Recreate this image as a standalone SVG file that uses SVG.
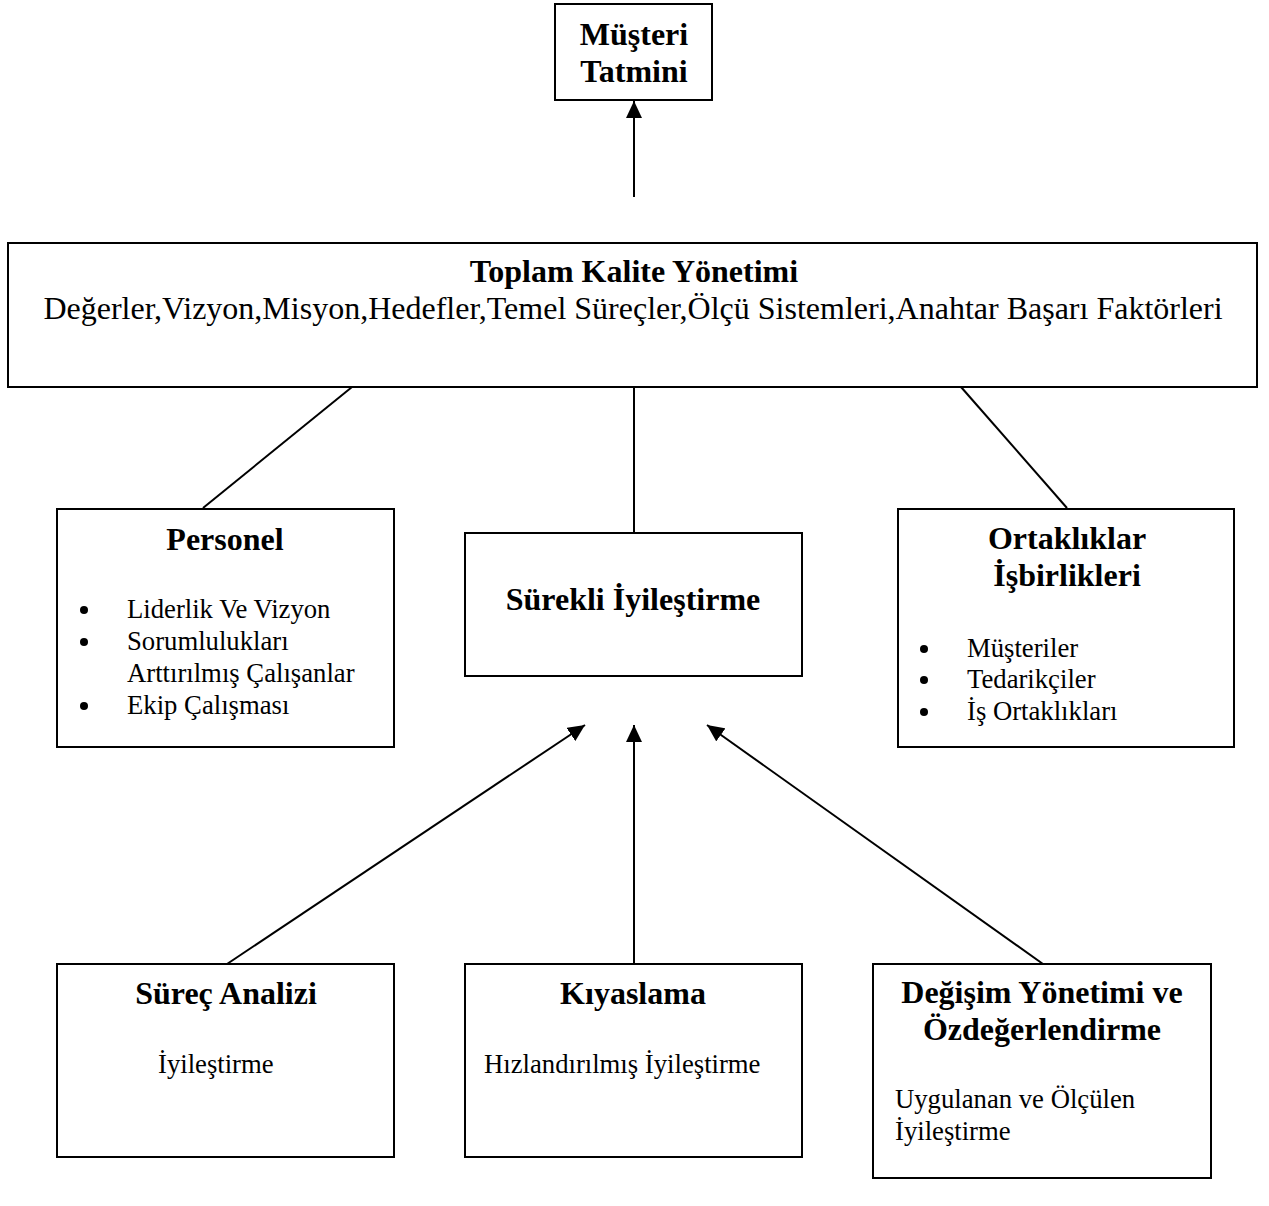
<svg xmlns="http://www.w3.org/2000/svg" width="1269" height="1206" viewBox="0 0 1269 1206">
<style>
  .box { fill: #ffffff; stroke: #000000; stroke-width: 2; }
  .conn { stroke: #000000; stroke-width: 2; fill: none; }
  .t { font-family: "Liberation Serif", "Times New Roman", serif; fill: #000000; }
  .title { font-size: 32px; font-weight: bold; text-anchor: middle; }
  .sub { font-size: 32px; text-anchor: middle; }
  .item { font-size: 26.7px; }
  .bullet { fill: #000000; }
</style>
<defs>
  <marker id="arrow" markerUnits="userSpaceOnUse" markerWidth="18" markerHeight="16" refX="17" refY="8" orient="auto">
    <path d="M0,0 L17,8 L0,16 Z" fill="#000000"/>
  </marker>
</defs>
<rect width="1269" height="1206" fill="#ffffff"/>

<g id="connectors">
  <line class="conn" x1="634" y1="197" x2="634" y2="101" marker-end="url(#arrow)"/>
  <line class="conn" x1="352" y1="387" x2="203" y2="508"/>
  <line class="conn" x1="634" y1="387" x2="634" y2="533"/>
  <line class="conn" x1="961" y1="387" x2="1067" y2="508"/>
  <line class="conn" x1="227" y1="964" x2="585" y2="725" marker-end="url(#arrow)"/>
  <line class="conn" x1="634" y1="964" x2="634" y2="725" marker-end="url(#arrow)"/>
  <line class="conn" x1="1043" y1="964" x2="707" y2="725" marker-end="url(#arrow)"/>
</g>

<g id="musteri-tatmini">
  <rect class="box" x="555" y="4" width="157" height="96"/>
  <text class="t title" x="634" y="45">Müşteri</text>
  <text class="t title" x="634" y="82">Tatmini</text>
</g>

<g id="toplam-kalite">
  <rect class="box" x="8" y="243" width="1249" height="144"/>
  <text class="t title" x="634" y="282">Toplam Kalite Yönetimi</text>
  <text class="t sub" x="633" y="319">Değerler,Vizyon,Misyon,Hedefler,Temel Süreçler,Ölçü Sistemleri,Anahtar Başarı Faktörleri</text>
</g>

<g id="personel">
  <rect class="box" x="57" y="509" width="337" height="238"/>
  <text class="t title" x="225" y="550">Personel</text>
  <circle class="bullet" cx="84" cy="610" r="4"/>
  <text class="t item" x="127" y="618">Liderlik Ve Vizyon</text>
  <circle class="bullet" cx="84" cy="642" r="4"/>
  <text class="t item" x="127" y="650">Sorumlulukları</text>
  <text class="t item" x="127" y="682">Arttırılmış Çalışanlar</text>
  <circle class="bullet" cx="84" cy="706" r="4"/>
  <text class="t item" x="127" y="714">Ekip Çalışması</text>
</g>

<g id="surekli-iyilestirme">
  <rect class="box" x="465" y="533" width="337" height="143"/>
  <text class="t title" x="633" y="610">Sürekli İyileştirme</text>
</g>

<g id="ortakliklar">
  <rect class="box" x="898" y="509" width="336" height="238"/>
  <text class="t title" x="1067" y="549">Ortaklıklar</text>
  <text class="t title" x="1067" y="586">İşbirlikleri</text>
  <circle class="bullet" cx="924" cy="649" r="4"/>
  <text class="t item" x="967" y="657">Müşteriler</text>
  <circle class="bullet" cx="924" cy="680" r="4"/>
  <text class="t item" x="967" y="688">Tedarikçiler</text>
  <circle class="bullet" cx="924" cy="712" r="4"/>
  <text class="t item" x="967" y="720">İş Ortaklıkları</text>
</g>

<g id="surec-analizi">
  <rect class="box" x="57" y="964" width="337" height="193"/>
  <text class="t title" x="226" y="1004">Süreç Analizi</text>
  <text class="t item" x="158" y="1073">İyileştirme</text>
</g>

<g id="kiyaslama">
  <rect class="box" x="465" y="964" width="337" height="193"/>
  <text class="t title" x="633" y="1004">Kıyaslama</text>
  <text class="t item" x="484" y="1073">Hızlandırılmış İyileştirme</text>
</g>

<g id="degisim-yonetimi">
  <rect class="box" x="873" y="964" width="338" height="214"/>
  <text class="t title" x="1042" y="1003">Değişim Yönetimi ve</text>
  <text class="t title" x="1042" y="1040">Özdeğerlendirme</text>
  <text class="t item" x="895" y="1108">Uygulanan ve Ölçülen</text>
  <text class="t item" x="895" y="1140">İyileştirme</text>
</g>
</svg>
